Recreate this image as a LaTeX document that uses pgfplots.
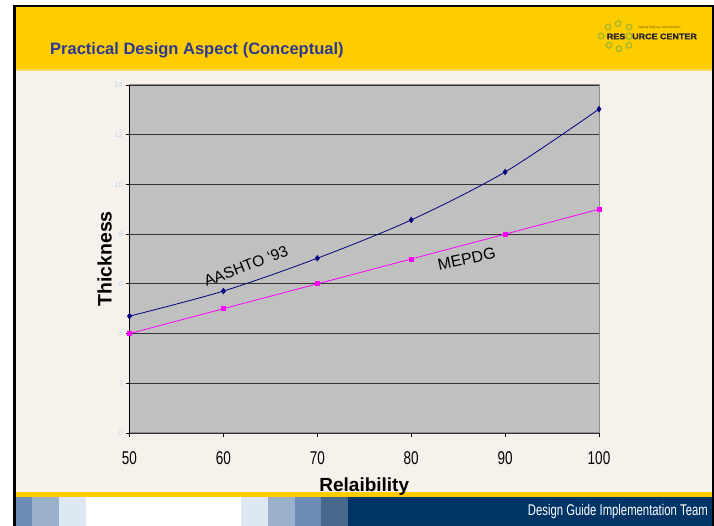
\documentclass[border=0pt]{standalone}
\usepackage{pgfplots}
\pgfplotsset{compat=1.18}
\usepackage{fontspec}
\setmainfont{Liberation Sans}
\newfontfamily\narrowfont[FakeStretch=0.73]{Liberation Sans}
\newfontfamily\logofont[FakeStretch=1.12,FakeBold=1.5]{Liberation Sans}
\definecolor{cream}{HTML}{F6F2EB}
\definecolor{hdr}{HTML}{FFCC00}
\definecolor{titleblue}{HTML}{2B3990}
\definecolor{bA}{HTML}{6B8DB5}
\definecolor{bB}{HTML}{9BB1CB}
\definecolor{bC}{HTML}{DDE8F4}
\definecolor{bD}{HTML}{48678C}
\definecolor{navyft}{HTML}{003366}
\definecolor{plotbg}{HTML}{C0C0C0}
\definecolor{ytl}{HTML}{BDD7F2}
\definecolor{ring}{HTML}{A8B82A}
\definecolor{aashto}{HTML}{000080}
\definecolor{mepdg}{HTML}{FF00FF}
\begin{document}
\begin{tikzpicture}[x=1pt,y=1pt]
\useasboundingbox (0,0) rectangle (714,526);
\fill[white] (0,0) rectangle (714,526);
\fill[black] (13,0) rectangle (714,521);
\fill[cream] (16,0) rectangle (712,519);
\fill[hdr] (16,456) rectangle (712,519);
\fill[hdr!60!cream] (16,455) rectangle (712,456.5);
\fill[hdr] (16,29) rectangle (712,34);
% footer blocks
\fill[bA] (16,0) rectangle (32,29);
\fill[bB] (32,0) rectangle (59,29);
\fill[bC] (59,0) rectangle (86,29);
\fill[white] (86,0) rectangle (241,29);
\fill[bC] (241,0) rectangle (268,29);
\fill[bB] (268,0) rectangle (295,29);
\fill[bA] (295,0) rectangle (321,29);
\fill[bD] (321,0) rectangle (348,29);
\fill[navyft] (348,0) rectangle (712,29);
\node[anchor=east, inner sep=0, text=white, font=\narrowfont\fontsize{15.5}{17}\selectfont] at (708,14.5) {Design Guide Implementation Team};
% title
\node[anchor=west, inner sep=0, text=titleblue, font=\fontsize{16.5}{18}\selectfont\bfseries] at (50,476) {Practical Design Aspect (Conceptual)};
% logo
\foreach \cx/\cy in {608/499,618/502.3,629/499,601/490,609/480.7,619/477.3,629/480.7}
  \draw[ring, line width=1.4] (\cx,\cy) circle (2.8);
\draw[ring, line width=1.4] (629,489.8) circle (3);
\node[anchor=east, inner sep=0, font=\logofont\fontsize{8}{8}\selectfont\bfseries, text=black!85] at (625.5,489.5) {RES};
\node[anchor=west, inner sep=0, font=\logofont\fontsize{8}{8}\selectfont\bfseries, text=black!85] at (632,489.5) {URCE CENTER};
\node[anchor=west, inner sep=0, font=\fontsize{3}{3}\selectfont, text=black!60!hdr] at (638,498.3) {Federal Highway Administration};
\begin{axis}[
  at={(129.5pt,93pt)}, anchor=south west,
  scale only axis, width=469.5pt, height=348pt,
  xmin=50, xmax=100, ymin=0, ymax=14,
  xtick={50,60,...,100}, ytick={0,2,...,14},
  tick align=outside, xtick pos=left, ytick pos=left,
  major tick length=4pt,
  tick style={black, line width=0.8pt},
  axis background/.style={fill=plotbg},
  axis line style={draw=gray!90, line width=1pt},
  ymajorgrids, major grid style={black!80, line width=0.9pt},
  xticklabel style={font=\narrowfont\fontsize{18.5}{20}\selectfont, text=black, yshift=-11pt},
  yticklabel style={font=\fontsize{7.5}{8}\selectfont, text=ytl, xshift=1pt},
  /pgf/number format/assume math mode=true,
  xlabel={Relaibility}, ylabel={Thickness},
  xlabel style={font=\fontsize{19}{20}\selectfont\bfseries, yshift=-6pt},
  ylabel style={font=\fontsize{19.5}{21}\selectfont\bfseries, yshift=-4pt},
  clip=false,
]
\addplot[aashto, line width=0.8pt, smooth, tension=0.5, mark=diamond*, mark size=2.6pt, mark options={fill=aashto, draw=aashto}]
  coordinates {(50,4.7) (60,5.71) (70,7.03) (80,8.57) (90,10.5) (100,13.03)};
\addplot[mepdg, line width=0.8pt, mark=square*, mark size=2pt, mark options={fill=mepdg, draw=mepdg}]
  coordinates {(50,4) (60,5) (70,6) (80,7) (90,8) (100,9)};
\draw[black, line width=1.2pt] (axis cs:50,0) -- (axis cs:50,14);
\node[rotate=21, font=\fontsize{15.5}{16}\selectfont] at (axis cs:62.4,6.72) {AASHTO `93};
\node[rotate=12, font=\fontsize{16}{17}\selectfont] at (axis cs:85.9,7.0) {MEPDG};
\end{axis}
\end{tikzpicture}
\end{document}
